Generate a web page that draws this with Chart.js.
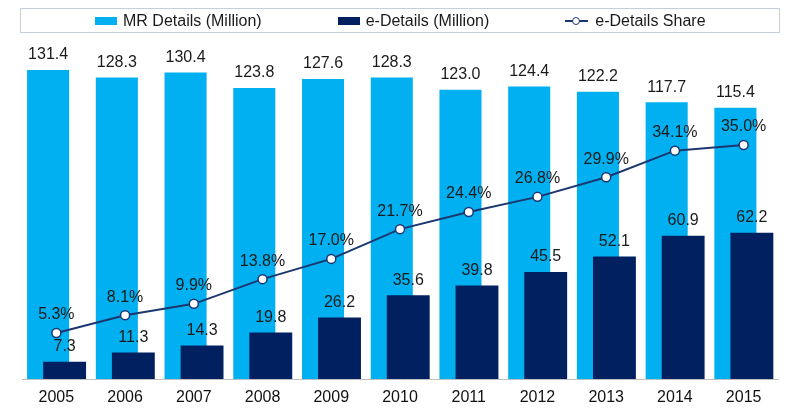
<!DOCTYPE html>
<html>
<head>
<meta charset="utf-8">
<script src="https://cdn.jsdelivr.net/npm/chart.js@4"></script>
<style>
  body { margin: 0; background: #fff; font-family: "Liberation Sans", Arial, sans-serif; }
  #wrap { position: relative; width: 800px; height: 411px; }
  #legend {
    position: absolute; left: 20px; top: 8px; width: 760px; height: 25px;
    box-sizing: border-box; border: 1px solid #c6ced9;
    display: flex; align-items: center; padding-left: 74px;
    font-size: 16px; color: #1a1a1a; white-space: nowrap;
  }
  .item { display: flex; align-items: center; flex: none; margin-right: 76px; }
  .box { width: 22px; height: 8px; margin-right: 6px; flex: none; }
  .mark { position: relative; width: 23px; height: 10px; margin-right: 7px; flex: none; }
  .mark .ln { position: absolute; left: 0; right: 0; top: 4px; height: 2px; background: #1c3670; }
  .mark .dot { position: absolute; left: 7px; top: 1px; width: 6px; height: 6px; border: 1.5px solid #1c3670; border-radius: 50%; background: #fff; }
</style>
</head>
<body>
<div id="wrap">
  <canvas id="chart"></canvas>
  <div id="legend"></div>
</div>
<script>
const years = ['2005', '2006', '2007', '2008', '2009', '2010', '2011', '2012', '2013', '2014', '2015'];
const mrDetails = [131.4, 128.3, 130.4, 123.8, 127.6, 128.3, 123.0, 124.4, 122.2, 117.7, 115.4];
const eDetails = [7.3, 11.3, 14.3, 19.8, 26.2, 35.6, 39.8, 45.5, 52.1, 60.9, 62.2];
const eShare = [5.3, 8.1, 9.9, 13.8, 17.0, 21.7, 24.4, 26.8, 29.9, 34.1, 35.0];

const lightBlue = '#00b0f0';
const navy = '#002060';
const lineNavy = '#1c3670';
const font = '"Liberation Sans", Arial, sans-serif';

// html legend with a frame, like the original
const legendItems = [
    { label: 'MR Details (Million)', color: lightBlue, kind: 'box' },
    { label: 'e-Details (Million)', color: navy, kind: 'box' },
    { label: 'e-Details Share', color: lineNavy, kind: 'line' }
];
const legendEl = document.getElementById('legend');
legendItems.forEach(function(it) {
    const item = document.createElement('div');
    item.className = 'item';
    const marker = document.createElement('span');
    if (it.kind === 'box') {
        marker.className = 'box';
        marker.style.background = it.color;
    } else {
        marker.className = 'mark';
        marker.innerHTML = '<span class="ln"></span><span class="dot"></span>';
    }
    const text = document.createElement('span');
    text.textContent = it.label;
    item.appendChild(marker);
    item.appendChild(text);
    legendEl.appendChild(item);
});

// bars overlap: the dark one must sit on top of the light one, line on top of both
const drawInOrder = {
    id: 'drawInOrder',
    beforeDatasetsDraw(chart) {
        chart.getSortedVisibleDatasetMetas().forEach(function(meta) {
            meta.controller.draw();
        });
        return false;
    }
};

// value labels above bars and points
const valueLabels = {
    id: 'valueLabels',
    afterDraw(chart) {
        const ctx = chart.ctx;
        ctx.save();
        ctx.font = '16px ' + font;
        ctx.fillStyle = '#1a1a1a';
        ctx.textAlign = 'center';
        ctx.textBaseline = 'bottom';
        chart.data.datasets.forEach(function(ds, i) {
            const meta = chart.getDatasetMeta(i);
            meta.data.forEach(function(el, j) {
                const v = ds.data[j];
                if (ds.type === 'line') {
                    ctx.fillText(v.toFixed(1) + '%', el.x, el.y - 10);
                } else {
                    ctx.fillText(v.toFixed(1), el.x, el.y - 7);
                }
            });
        });
        ctx.restore();
    }
};

const ctx = document.getElementById('chart').getContext('2d');
new Chart(ctx, {
    data: {
        labels: years,
        datasets: [
            {
                type: 'bar',
                label: 'MR Details (Million)',
                data: mrDetails,
                backgroundColor: lightBlue,
                categoryPercentage: 0.48,
                barPercentage: 2.55,
                yAxisID: 'y'
            },
            {
                type: 'bar',
                label: 'e-Details (Million)',
                data: eDetails,
                backgroundColor: navy,
                categoryPercentage: 0.48,
                barPercentage: 2.6,
                yAxisID: 'y'
            },
            {
                type: 'line',
                label: 'e-Details Share',
                data: eShare,
                borderColor: lineNavy,
                borderWidth: 2,
                pointRadius: 4.5,
                pointBorderWidth: 1.5,
                pointBackgroundColor: '#ffffff',
                pointBorderColor: lineNavy,
                tension: 0,
                yAxisID: 'y2'
            }
        ]
    },
    options: {
        responsive: true,
        maintainAspectRatio: false,
        animation: false,
        events: [],
        layout: {
            padding: { top: 40, left: 22, right: 22, bottom: 4 }
        },
        plugins: {
            legend: { display: false },
            tooltip: { enabled: false }
        },
        scales: {
            x: {
                grid: { display: false, drawTicks: false },
                border: { display: true, color: '#bfbfbf', width: 1 },
                ticks: {
                    padding: 9,
                    color: '#111111',
                    font: { family: font, size: 16 }
                },
                afterFit(scale) {
                    scale.height = 28;
                }
            },
            y: {
                display: false,
                min: 0,
                max: 144.2
            },
            y2: {
                display: false,
                position: 'right',
                min: -1.975,
                max: 51.58
            }
        }
    },
    plugins: [drawInOrder, valueLabels]
});
</script>
</body>
</html>
